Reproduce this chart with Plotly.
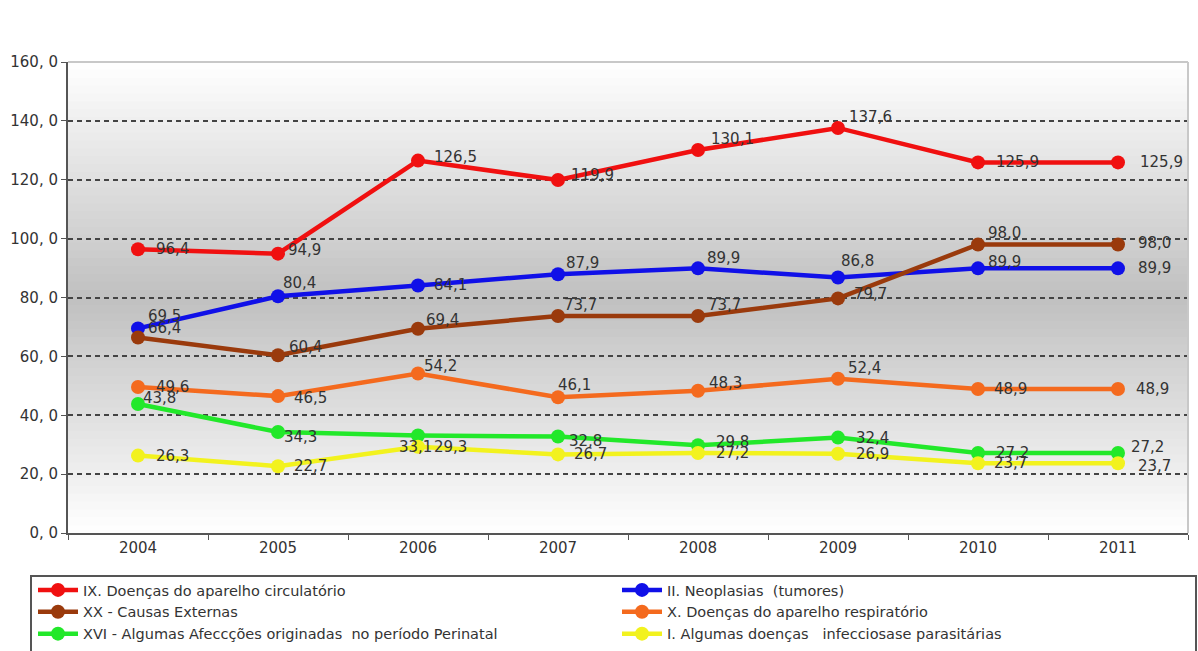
import plotly.graph_objects as go

years = ["2004", "2005", "2006", "2007", "2008", "2009", "2010", "2011"]

names = [
    "IX. Doenças do aparelho circulatório",
    "II. Neoplasias  (tumores)",
    "XX - Causas Externas",
    "X. Doenças do aparelho respiratório",
    "XVI - Algumas Afeccções originadas  no período Perinatal",
    "I. Algumas doenças   infecciosase parasitárias",
]

circulatorio = [96.4, 94.9, 126.5, 119.9, 130.1, 137.6, 125.9, 125.9]
neoplasias = [69.5, 80.4, 84.1, 87.9, 89.9, 86.8, 89.9, 89.9]
externas = [66.4, 60.4, 69.4, 73.7, 73.7, 79.7, 98.0, 98.0]
respiratorio = [49.6, 46.5, 54.2, 46.1, 48.3, 52.4, 48.9, 48.9]
perinatal = [43.8, 34.3, 33.1, 32.8, 29.8, 32.4, 27.2, 27.2]
infecciosas = [26.3, 22.7, 29.3, 26.7, 27.2, 26.9, 23.7, 23.7]

y_ticks = [0, 20, 40, 60, 80, 100, 120, 140, 160]
y_tick_labels = ["0, 0", "20, 0", "40, 0", "60, 0", "80, 0", "100, 0", "120, 0", "140, 0", "160, 0"]

series = [circulatorio, neoplasias, externas, respiratorio, perinatal, infecciosas]
colors = ["#f01010", "#1010e8", "#9a3a0c", "#f46a1e", "#22e82a", "#f2f21e"]
legend_ids = ["legend", "legend2", "legend", "legend2", "legend", "legend2"]

# label pixel offsets (style only): (dx, dy) relative to each point
label_dx = [
    [16, 8, 14, 11, 11, 9, 16, 20],
    [8, 3, 14, 6, 7, 1, 8, 18],
    [8, 9, 6, 4, 8, 14, 8, 18],
    [16, 14, 4, -2, 9, 8, 14, 16],
    [3, 4, -21, 9, 16, 16, 16, 11],
    [16, 14, 14, 14, 16, 16, 14, 18],
]
label_dy = [
    [0, 4, 4, 5, 11, 11, 0, 0],
    [12, 13, 0, 11, 10, 16, 6, 0],
    [10, 8, 9, 11, 11, 4, 12, 2],
    [0, -2, 7, 12, 8, 11, 0, 0],
    [6, -5, -11, -5, 3, 0, 0, 6],
    [0, 0, 0, 0, 0, 0, 0, -3],
]


def fmt(v):
    return f"{v:.1f}".replace(".", ",")


fig = go.Figure()
annotations = []
for name, vals, col, leg, dxs, dys in zip(names, series, colors, legend_ids, label_dx, label_dy):
    fig.add_trace(go.Scatter(
        x=years, y=vals, name=name, mode="lines+markers",
        line=dict(color=col, width=4.5),
        marker=dict(color=col, size=14),
        legend=leg,
    ))
    for i, (v, dx, dy) in enumerate(zip(vals, dxs, dys)):
        annotations.append(dict(
            x=i, y=v, xref="x", yref="y", text=fmt(v), showarrow=False,
            xanchor="left", yanchor="middle", xshift=dx, yshift=dy,
            font=dict(family="DejaVu Sans", size=15, color="#333333"),
        ))

# vertical gradient background (white -> gray -> white)
shapes = []
n = 60
for i in range(n):
    f0 = i / n
    f1 = (i + 1) / n
    mid = (f0 + f1) / 2
    d = abs(mid - 0.5) / 0.5
    g = int(round(192 + 63 * d))
    shapes.append(dict(type="rect", xref="paper", yref="paper", x0=0, x1=1, y0=f0, y1=f1 + 0.002,
                       fillcolor=f"rgb({g},{g},{g})", line=dict(width=0), layer="below"))
# plot border (top/right light gray)
shapes.append(dict(type="line", xref="paper", yref="paper", x0=0, x1=1, y0=1, y1=1,
                   line=dict(color="#c8c8c8", width=2), layer="above"))
shapes.append(dict(type="line", xref="paper", yref="paper", x0=1, x1=1, y0=0, y1=1,
                   line=dict(color="#c8c8c8", width=2), layer="above"))
# legend box
shapes.append(dict(type="rect", xref="paper", yref="paper",
                   x0=(31 - 68) / 1120, x1=(1196 - 68) / 1120,
                   y0=(533 - 700) / 471, y1=(533 - 576) / 471,
                   line=dict(color="#555555", width=2), fillcolor="rgba(0,0,0,0)"))

legend_common = dict(
    orientation="v", xanchor="left", yanchor="top",
    font=dict(family="DejaVu Sans", size=14.5, color="#333333"),
    bgcolor="rgba(0,0,0,0)", itemwidth=40, tracegroupgap=0,
)

fig.update_layout(
    width=1198, height=651,
    margin=dict(l=68, r=10, t=62, b=118, autoexpand=False),
    paper_bgcolor="white",
    plot_bgcolor="rgba(0,0,0,0)",
    font=dict(family="DejaVu Sans", color="#333333"),
    shapes=shapes,
    annotations=annotations,
    showlegend=True,
    legend=dict(x=(33 - 68) / 1120, y=(533 - 574) / 471, **legend_common),
    legend2=dict(x=(617 - 68) / 1120, y=(533 - 574) / 471, **legend_common),
    xaxis=dict(
        type="category", range=[-0.5, 7.5],
        showgrid=False, showline=True, linecolor="#555555", linewidth=2,
        ticks="outside", tickson="boundaries", ticklen=5, tickcolor="#555555",
        tickfont=dict(family="DejaVu Sans", size=15, color="#333333"),
        zeroline=False,
    ),
    yaxis=dict(
        range=[0, 160], tickvals=y_ticks, ticktext=y_tick_labels,
        showgrid=True, gridcolor="#444444", gridwidth=1.5, griddash="5px,4px",
        showline=True, linecolor="#555555", linewidth=2,
        ticks="outside", ticklen=5, tickcolor="#555555",
        tickfont=dict(family="DejaVu Sans", size=15, color="#333333"),
        zeroline=False,
    ),
)

fig.write_html("out.html")
